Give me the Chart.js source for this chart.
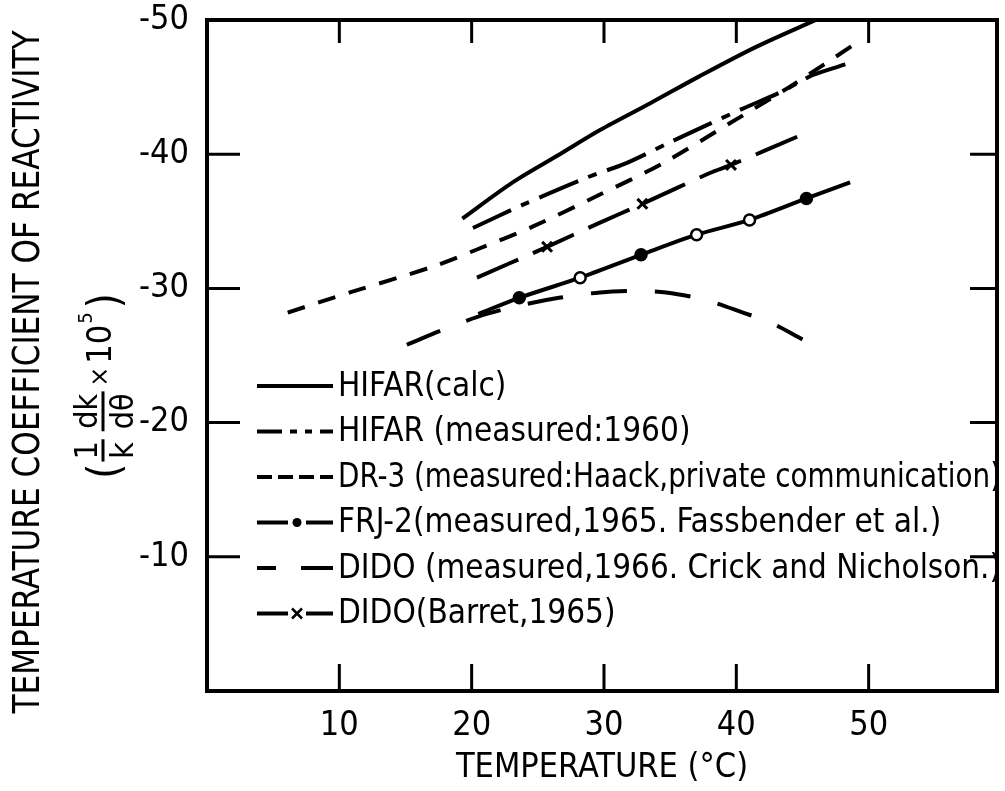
<!DOCTYPE html>
<html lang="en">
<head>
<meta charset="UTF-8">
<title>Temperature coefficient of reactivity</title>
<script src="https://cdn.jsdelivr.net/npm/chart.js"></script>
<style>
  html, body { margin: 0; padding: 0; background: #fff; }
  canvas { display: block; }
</style>
</head>
<body>
<canvas id="chart" width="1005" height="791"></canvas>
<script>
// values: temperature (°C) against coefficient (1/k dk/dθ x10^5)
const hifarCalcT = [19.3, 23.1, 26.5, 29.7, 33.5, 37.2, 41.5, 46.0];
const hifarCalcK = [-35.2, -37.9, -39.9, -41.8, -43.8, -45.8, -48.0, -50.0];

const hifarMeasT = [20.1, 23.8, 28.8, 31.6, 34.8, 37.4, 40.5, 43.3, 45.8, 48.6];
const hifarMeasK = [-34.5, -36.2, -38.3, -39.3, -40.8, -42.0, -43.4, -44.6, -45.9, -46.8];

const dr3T = [6.1, 10.8, 17.0, 20.4, 24.6, 29.5, 34.4, 39.5, 44.0, 49.1];
const dr3K = [-28.2, -29.7, -31.6, -32.9, -34.6, -36.9, -39.3, -42.3, -45.0, -48.3];

const frjT = [20.5, 23.6, 28.2, 32.8, 37.0, 41.0, 45.3, 48.6];
const frjK = [-28.1, -29.3, -30.8, -32.5, -34.0, -35.1, -36.7, -37.9];
const frjMarked = [false, true, true, true, true, true, true, false];
const frjFilled = [false, true, false, true, false, false, true, false];

const didoMeasT = [15.1, 17.8, 20.5, 23.5, 26.6, 29.7, 32.0, 34.7, 37.8, 40.5, 42.7, 45.0];
const didoMeasK = [-25.8, -26.9, -27.9, -28.7, -29.3, -29.7, -29.8, -29.7, -29.1, -28.2, -27.4, -26.2];

const barretT = [20.4, 25.7, 29.7, 32.9, 38.0, 39.6, 44.6];
const barretK = [-30.8, -33.1, -34.9, -36.3, -38.6, -39.2, -41.3];
const barretMarked = [false, true, false, true, false, true, false];

const xTicks = [10, 20, 30, 40, 50];
const yTicks = [-50, -40, -30, -20, -10];

const FONT = "'Liberation Sans Narrow', 'DejaVu Sans Condensed', 'Roboto Condensed', sans-serif";
Chart.defaults.font.family = FONT;
Chart.defaults.color = '#000';

const pairs = (xs, ys) => xs.map((v, i) => ({ x: v, y: ys[i] }));

// fraction formula of the y title, drawn turned like the axis text
function drawFormula(ctx, cx, cy) {
  const big = '44px ' + FONT, mid = '32px ' + FONT, times = '26px ' + FONT, sup = '20px ' + FONT;
  ctx.save();
  ctx.translate(cx, cy);
  ctx.rotate(-Math.PI / 2);
  ctx.textBaseline = 'alphabetic';
  ctx.textAlign = 'left';
  const w = (t, f) => { ctx.font = f; return ctx.measureText(t).width; };
  const fracW = (n, d) => Math.max(w(n, mid), w(d, mid)) + 4;
  const parts = [
    { t: '(', f: big, v: 16, gap: 2 },
    { frac: ['1', 'k'], gap: 8 },
    { frac: ['dk', 'dθ'], gap: 5 },
    { t: '×', f: times, v: 5, gap: 3 },
    { t: '10', f: '34px ' + FONT, v: 8, gap: 1 },
    { t: '5', f: sup, v: -11, gap: 4 },
    { t: ')', f: big, v: 16, gap: 0 }
  ];
  let total = 0;
  parts.forEach(p => { p.w = p.frac ? fracW(p.frac[0], p.frac[1]) : w(p.t, p.f); total += p.w + p.gap; });
  let u = -total / 2;
  parts.forEach(p => {
    if (p.frac) {
      ctx.font = mid;
      const wn = ctx.measureText(p.frac[0]).width, wd = ctx.measureText(p.frac[1]).width;
      ctx.fillText(p.frac[0], u + (p.w - wn) / 2, -6);
      ctx.fillText(p.frac[1], u + (p.w - wd) / 2, 30);
      ctx.fillRect(u, -1.5, p.w, 3);
    } else {
      ctx.font = p.f;
      ctx.fillText(p.t, u, p.v);
    }
    u += p.w + p.gap;
  });
  ctx.restore();
}

function drawMarker(ctx, style, px, py) {
  ctx.setLineDash([]);
  if (style === 'circle') {
    ctx.beginPath();
    ctx.arc(px, py, 4.5, 0, Math.PI * 2);
    ctx.fill();
  } else {
    ctx.lineWidth = 2.5;
    ctx.beginPath();
    ctx.moveTo(px - 5, py - 5); ctx.lineTo(px + 5, py + 5);
    ctx.moveTo(px + 5, py - 5); ctx.lineTo(px - 5, py + 5);
    ctx.stroke();
  }
}

const frameAndLegend = {
  id: 'frameAndLegend',
  afterDatasetsDraw(chart) {
    const { ctx, chartArea: a, scales: { x, y } } = chart;
    ctx.save();
    ctx.strokeStyle = '#000';
    ctx.fillStyle = '#000';
    ctx.setLineDash([]);

    // box with inward ticks on all four sides
    ctx.lineWidth = 4;
    ctx.strokeRect(a.left, a.top, a.right - a.left, a.bottom - a.top);
    ctx.lineWidth = 3;
    ctx.beginPath();
    xTicks.forEach(v => {
      const px = x.getPixelForValue(v);
      ctx.moveTo(px, a.bottom); ctx.lineTo(px, a.bottom - 27);
      ctx.moveTo(px, a.top); ctx.lineTo(px, a.top + 23);
    });
    yTicks.slice(1).forEach(v => {
      const py = y.getPixelForValue(v);
      ctx.moveTo(a.left, py); ctx.lineTo(a.left + 33, py);
      ctx.moveTo(a.right, py); ctx.lineTo(a.right - 27, py);
    });
    ctx.stroke();

    // legend inside the plot
    ctx.font = '33px ' + FONT;
    ctx.textBaseline = 'middle';
    ctx.textAlign = 'left';
    const x0 = a.left + 50, x1 = a.left + 126;
    chart.data.datasets.forEach((ds, i) => {
      const ry = a.top + 366 + i * 45.5;
      ctx.lineWidth = ds.borderWidth || 4;
      ctx.lineCap = 'butt';
      if (ds.legendMarker) {
        const mid = x0 + 40;
        ctx.setLineDash([]);
        ctx.beginPath();
        ctx.moveTo(x0, ry); ctx.lineTo(mid - 9, ry);
        ctx.moveTo(mid + 9, ry); ctx.lineTo(x1, ry);
        ctx.stroke();
        drawMarker(ctx, ds.legendMarker, mid, ry);
      } else {
        ctx.setLineDash(ds.legendDash || []);
        ctx.beginPath();
        ctx.moveTo(x0, ry); ctx.lineTo(x1, ry);
        ctx.stroke();
      }
      ctx.setLineDash([]);
      ctx.fillText(ds.label, x1 + 5, ry + 1, a.right + 4 - (x1 + 5));
    });

    // y axis title, two lines turned upright
    ctx.save();
    ctx.translate(29, 372);
    ctx.rotate(-Math.PI / 2);
    ctx.font = '37px ' + FONT;
    ctx.textAlign = 'center';
    ctx.textBaseline = 'middle';
    ctx.fillText('TEMPERATURE COEFFICIENT OF REACTIVITY', 0, 0, 683);
    ctx.restore();
    drawFormula(ctx, 103, 386);

    ctx.restore();
  }
};

new Chart(document.getElementById('chart'), {
  type: 'line',
  data: {
    datasets: [
      { label: 'HIFAR(calc)', data: pairs(hifarCalcT, hifarCalcK), legendDash: [] },
      { label: 'HIFAR (measured:1960)', data: pairs(hifarMeasT, hifarMeasK),
        borderDash: [42, 11, 9, 11], legendDash: [25, 8, 7, 8, 7, 8, 40] },
      { label: 'DR-3 (measured:Haack,private communication)', data: pairs(dr3T, dr3K),
        borderDash: [18, 14], legendDash: [15, 6] },
      { label: 'FRJ-2(measured,1965. Fassbender et al.)', data: pairs(frjT, frjK),
        legendMarker: 'circle',
        pointStyle: 'circle',
        pointRadius: frjMarked.map(m => m ? 5.5 : 0),
        pointBorderWidth: 2.5,
        pointBorderColor: '#000',
        pointBackgroundColor: frjFilled.map(f => f ? '#000' : '#fff') },
      { label: 'DIDO (measured,1966. Crick and Nicholson.)', data: pairs(didoMeasT, didoMeasK),
        borderDash: [36, 28], legendDash: [19, 25, 40] },
      { label: 'DIDO(Barret,1965)', data: pairs(barretT, barretK),
        borderDash: [45, 16], legendMarker: 'cross',
        pointStyle: 'crossRot',
        pointRadius: barretMarked.map(m => m ? 7 : 0),
        pointBorderWidth: 3,
        pointBorderColor: '#000' }
    ]
  },
  options: {
    responsive: false,
    animation: false,
    layout: { padding: { top: 20, right: 8, left: 0, bottom: 0 } },
    plugins: { legend: { display: false }, tooltip: { enabled: false } },
    elements: {
      line: { borderColor: '#000', borderWidth: 4, tension: 0.3, fill: false, borderCapStyle: 'butt' },
      point: { radius: 0, hoverRadius: 0 }
    },
    scales: {
      x: {
        type: 'linear', min: 0, max: 59.7,
        grid: { display: false }, border: { display: false },
        afterBuildTicks: s => { s.ticks = xTicks.map(v => ({ value: v })); },
        ticks: { font: { size: 34 }, padding: 7, maxRotation: 0, autoSkip: false },
        title: { display: true, text: 'TEMPERATURE (°C)', font: { size: 34 }, padding: { top: 0, bottom: 2 } },
        afterFit: s => { s.height = 100; s.paddingLeft = 0; s.paddingRight = 0; }
      },
      y: {
        type: 'linear', min: -50, max: 0, reverse: true,
        grid: { display: false }, border: { display: false },
        afterBuildTicks: s => { s.ticks = yTicks.map(v => ({ value: v })); },
        ticks: { font: { size: 34 }, padding: 10 },
        afterFit: s => { s.width = 207; s.paddingTop = 0; s.paddingBottom = 0; }
      }
    }
  },
  plugins: [frameAndLegend]
});
</script>
</body>
</html>
